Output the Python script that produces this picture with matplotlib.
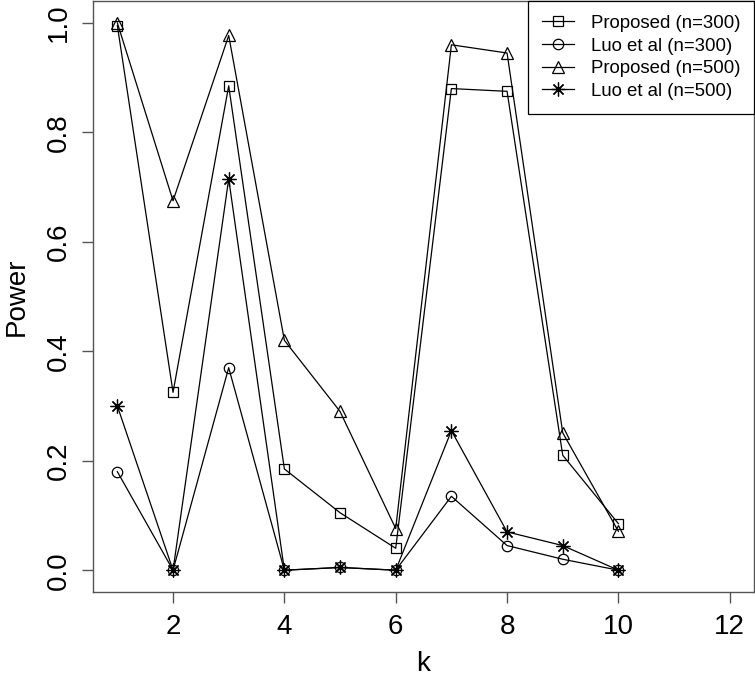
from matplotlib import pyplot as plt
import numpy as np

plt.rcParams['font.family'] = ['Liberation Sans', 'DejaVu Sans']

k = [1, 2, 3, 4, 5, 6, 7, 8, 9, 10]
proposed_300 = [0.995, 0.325, 0.885, 0.185, 0.105, 0.040, 0.880, 0.875, 0.210, 0.085]
luo_300 = [0.180, 0.000, 0.370, 0.000, 0.005, 0.000, 0.135, 0.045, 0.020, 0.000]
proposed_500 = [1.000, 0.675, 0.977, 0.420, 0.290, 0.076, 0.960, 0.945, 0.251, 0.071]
luo_500 = [0.300, 0.000, 0.715, 0.000, 0.005, 0.000, 0.255, 0.070, 0.045, 0.000]

labels = ['Proposed (n=300)', 'Luo et al (n=300)', 'Proposed (n=500)', 'Luo et al (n=500)']
series = [proposed_300, luo_300, proposed_500, luo_500]
markers = ['s', 'o', '^', (8, 2, 0)]
msizes = [7, 7.5, 8.5, 10]

fig = plt.figure(figsize=(7.55, 6.79), dpi=100)
ax = fig.add_axes([0.123, 0.128, 0.876, 0.8705])

for y, lab, m, ms in zip(series, labels, markers, msizes):
    ax.plot(k, y, color='black', linewidth=0.9, marker=m, markersize=ms,
            markerfacecolor='none', markeredgecolor='black', markeredgewidth=0.9,
            label=lab)

ax.set_xlim(0.56, 12.44)
ax.set_ylim(-0.04, 1.04)
ax.set_xticks([2, 4, 6, 8, 10, 12])
ax.set_yticks([0.0, 0.2, 0.4, 0.6, 0.8, 1.0])
ax.set_yticklabels(['0.0', '0.2', '0.4', '0.6', '0.8', '1.0'], rotation=90, va='center')

for s in ax.spines.values():
    s.set_color('#555555')
    s.set_linewidth(1.0)
ax.tick_params(axis='both', direction='out', length=8, width=1.0, color='#555555',
               labelsize=20, pad=8)
ax.tick_params(axis='y', pad=7)

ax.set_xlabel('k', fontsize=20, labelpad=8)
ax.set_ylabel('Power', fontsize=20, labelpad=12)

leg = ax.legend(loc='upper right', borderaxespad=0, fancybox=False, framealpha=1,
                edgecolor='black', fontsize=13.4, handlelength=1.7, handletextpad=0.9,
                labelspacing=0.3, borderpad=0.75)
leg.get_frame().set_linewidth(0.9)

plt.savefig('out.png', dpi=100)
